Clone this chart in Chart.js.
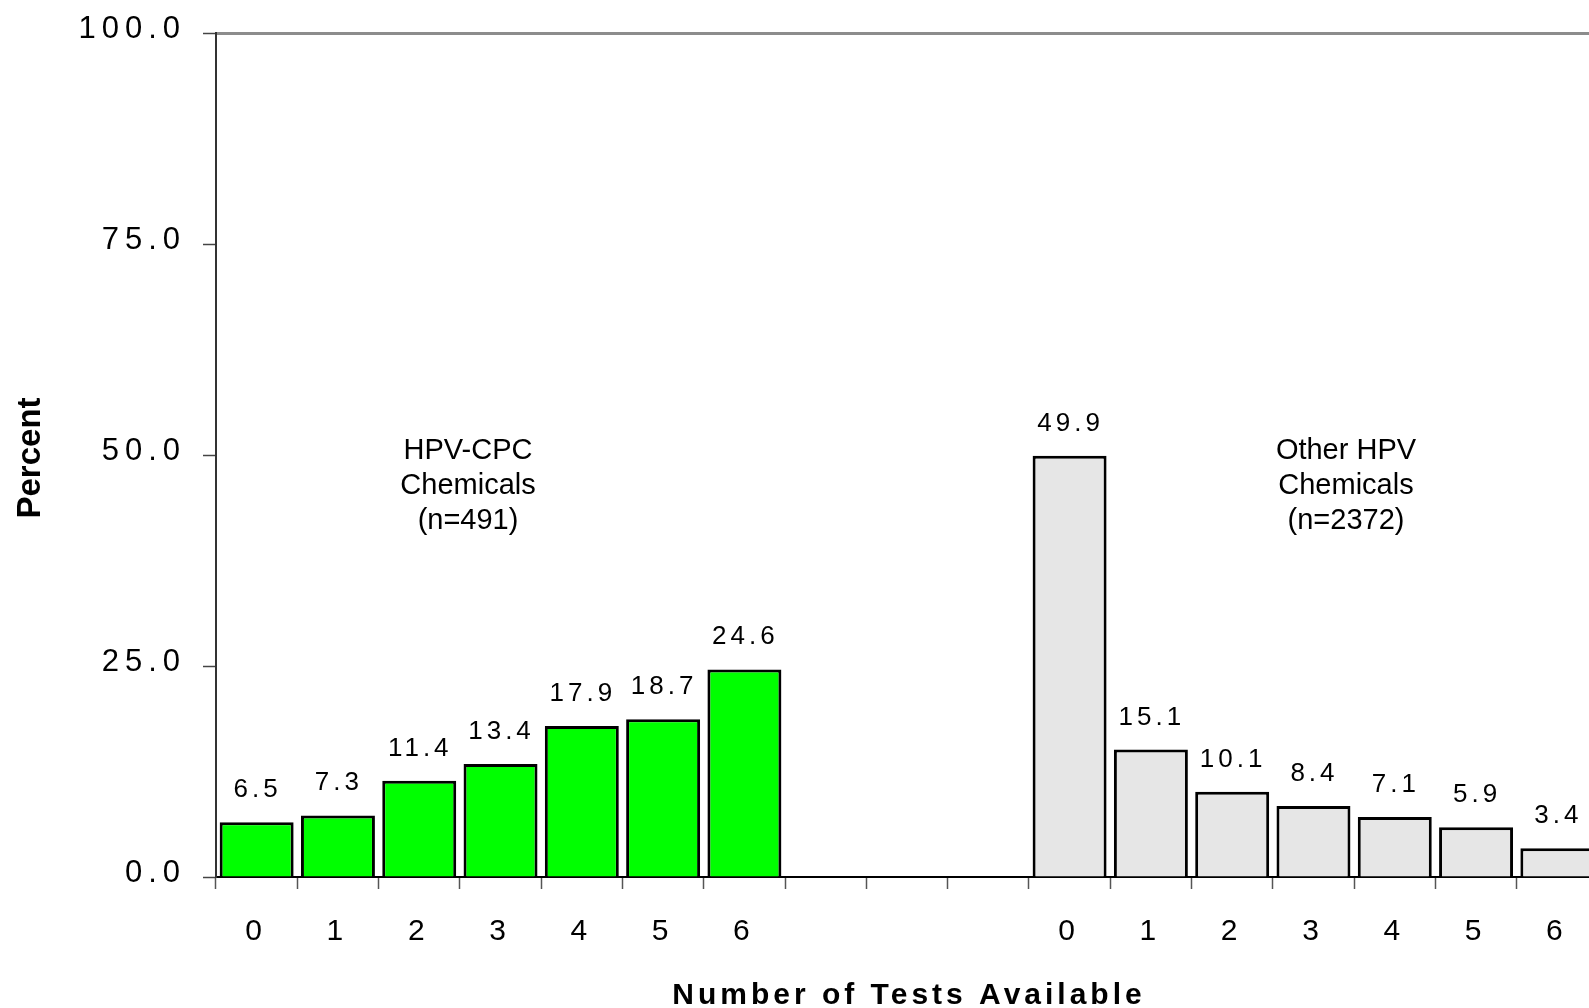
<!DOCTYPE html>
<html lang="en">
<head>
<meta charset="UTF-8">
<title>Number of Tests Available</title>
<script src="https://cdn.jsdelivr.net/npm/chart.js"></script>
<style>
    html, body {
        margin: 0;
        padding: 0;
        background: #ffffff;
        overflow: hidden;
    }

    /* plot runs a little past the right edge of the window, like the original */
    #wrap {
        width: 1610px;
        height: 1008px;
    }
</style>
</head>
<body>
<div id="wrap"><canvas id="testsChart" width="1610" height="1008"></canvas></div>

<script>
    // ---- data ----
    const groupLabels = ['0', '1', '2', '3', '4', '5', '6'];
    const gapSlots = 3;
    const cpcValues = [6.5, 7.3, 11.4, 13.4, 17.9, 18.7, 24.6];      // HPV-CPC Chemicals (n=491)
    const otherValues = [49.9, 15.1, 10.1, 8.4, 7.1, 5.9, 3.4];      // Other HPV Chemicals (n=2372)
    const yTicks = [0, 25, 50, 75, 100];
    const groupNotes = [
        ['HPV-CPC', 'Chemicals', '(n=491)'],
        ['Other HPV', 'Chemicals', '(n=2372)']
    ];
    const notePositions = [2.6, 13.4];   // category index of each note's centre
    const noteLevel = 46.3;              // percent value at the middle line of the notes

    const FONT = '"Liberation Sans", Arial, Helvetica, sans-serif';

    // build the 17 slots: 7 bars, 3 empty, 7 bars
    const gap = new Array(gapSlots).fill('');
    const categories = groupLabels.concat(gap, groupLabels);
    const cpcData = cpcValues.concat(new Array(gapSlots + otherValues.length).fill(null));
    const otherData = new Array(cpcValues.length + gapSlots).fill(null).concat(otherValues);

    // wide letter spacing used by the axis numbers
    const spacingPlugin = {
        id: 'spacing',
        beforeUpdate(chart) { chart.ctx.letterSpacing = '6px'; },
        beforeDraw(chart) { chart.ctx.letterSpacing = '6px'; }
    };

    // value labels, group notes and axis titles
    const textPlugin = {
        id: 'texts',
        afterDraw(chart) {
            const ctx = chart.ctx;
            const x = chart.scales.x;
            const y = chart.scales.y;
            ctx.save();
            ctx.fillStyle = '#000';

            // values above the bars
            ctx.font = '26px ' + FONT;
            ctx.letterSpacing = '4px';
            ctx.textAlign = 'center';
            ctx.textBaseline = 'alphabetic';
            chart.data.datasets.forEach((ds, di) => {
                chart.getDatasetMeta(di).data.forEach((bar, i) => {
                    const v = ds.data[i];
                    if (v === null || v === undefined) return;
                    ctx.fillText(v.toFixed(1), bar.x + 1, bar.y - 25);
                });
            });

            // group notes
            ctx.font = '29px ' + FONT;
            ctx.letterSpacing = '0px';
            ctx.textBaseline = 'middle';
            groupNotes.forEach((lines, g) => {
                const cx = x.getPixelForValue(notePositions[g]);
                const cy = y.getPixelForValue(noteLevel);
                lines.forEach((t, k) => ctx.fillText(t, cx, cy + (k - 1) * 35));
            });

            // x axis title
            ctx.font = 'bold 30px ' + FONT;
            ctx.letterSpacing = '4px';
            ctx.textBaseline = 'alphabetic';
            ctx.fillText('Number of Tests Available', (x.left + x.right) / 2 + 2, chart.height - 4);

            // y axis title
            ctx.font = 'bold 33px ' + FONT;
            ctx.letterSpacing = '0px';
            ctx.translate(40, (y.top + y.bottom) / 2 + 3);
            ctx.rotate(-Math.PI / 2);
            ctx.fillText('Percent', 0, 0);
            ctx.restore();
        }
    };

    const ctx = document.getElementById('testsChart').getContext('2d');
    new Chart(ctx, {
        type: 'bar',
        data: {
            labels: categories,
            datasets: [{
                label: 'HPV-CPC Chemicals (n=491)',
                data: cpcData,
                backgroundColor: '#00ff00',
                borderColor: '#000000',
                borderWidth: 3,
                barPercentage: 0.91,
                categoryPercentage: 1.0,
                grouped: false
            }, {
                label: 'Other HPV Chemicals (n=2372)',
                data: otherData,
                backgroundColor: '#e6e6e6',
                borderColor: '#000000',
                borderWidth: 3,
                barPercentage: 0.91,
                categoryPercentage: 1.0,
                grouped: false
            }]
        },
        options: {
            responsive: false,
            animation: false,
            events: [],
            layout: { padding: { top: 33, right: 12, left: 0, bottom: 0 } },
            plugins: {
                legend: { display: false },
                tooltip: { enabled: false }
            },
            scales: {
                x: {
                    offset: true,
                    grid: {
                        offset: true,
                        drawOnChartArea: false,
                        tickLength: 12,
                        tickColor: '#555',
                        tickWidth: 1.5
                    },
                    border: { color: '#000', width: 2 },
                    ticks: {
                        autoSkip: false,
                        maxRotation: 0,
                        padding: 25,
                        color: '#000',
                        font: { family: FONT, size: 30 }
                    },
                    afterFit: (s) => { s.height = 131; }
                },
                y: {
                    min: 0,
                    max: 100,
                    afterBuildTicks: (s) => { s.ticks = yTicks.map(v => ({ value: v })); },
                    grid: {
                        color: (c) => (c.tick && c.tick.value === 100) ? '#8c8c8c' : 'rgba(0,0,0,0)',
                        lineWidth: (c) => (c.tick && c.tick.value === 100) ? 3 : 1,
                        tickLength: 13,
                        tickColor: '#444',
                        tickWidth: 1.5
                    },
                    border: { color: '#333', width: 2 },
                    ticks: {
                        padding: 17,
                        color: '#000',
                        font: { family: FONT, size: 31, lineHeight: '8px' },
                        // blank second line lifts the number a few px above its tick, as in the original
                        callback: (v) => [Number(v).toFixed(1), '']
                    },
                    afterFit: (s) => { s.width = 216; }
                }
            }
        },
        plugins: [spacingPlugin, textPlugin]
    });
</script>
</body>
</html>
